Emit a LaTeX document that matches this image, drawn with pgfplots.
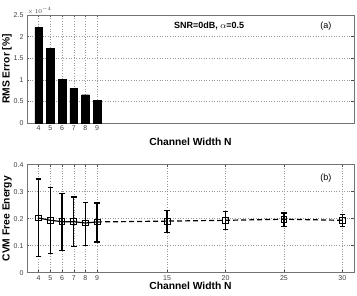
\documentclass[border=0pt]{standalone}
\usepackage{pgfplots}
\pgfplotsset{compat=1.18}
\usepackage{fontspec}
\setmainfont{Liberation Sans}
\setsansfont{Liberation Sans}
\begin{document}
\begin{tikzpicture}
\path[use as bounding box] (0,0) rectangle (357pt,296pt);
\pgfplotsset{
  mystyle/.style={
    scale only axis, width=327pt, height=108pt, anchor=south west,
    xmin=3, xmax=31,
    axis line style={draw=black!55, line width=0.8pt},
    tick align=inside, major tick length=2.5pt,
    tick style={black!70, line width=0.4pt},
    grid=major, grid style={dash pattern=on 0.6pt off 2pt, black!40, line width=0.4pt},
    tick label style={font=\fontsize{7}{8}\selectfont, text=black!75},
    xticklabel style={yshift=1pt},
    /pgf/number format/assume math mode=true,
    label style={font=\bfseries\fontsize{10.3}{11}\selectfont},
    xlabel={Channel Width N},
  }
}
\begin{axis}[mystyle, at={(27pt,173pt)},
  ymin=0, ymax=2.5,
  ytick={0,0.5,1,1.5,2,2.5},
  yticklabels={0,0.5,1,1.5,2,2.5},
  xtick={4,5,6,7,8,9},
  ylabel={RMS Error [\%]},
  xlabel style={yshift=-1pt},
  ylabel style={yshift=-5pt},
  clip=false]
\addplot[ybar, bar width=0.66, fill=black, draw=black] coordinates {
(4,2.215) (5,1.73) (6,1.015) (7,0.80) (8,0.654) (9,0.523)};
\node[font=\fontsize{6}{7}\selectfont, text=black!75, anchor=south west, inner sep=0.5pt] at (rel axis cs:0,1) {$\times\,10^{-4}$};
\node[font=\bfseries\fontsize{9}{10}\selectfont, anchor=north] at (axis cs:18.6,2.43) {SNR=0dB, $\alpha$=0.5};
\node[font=\fontsize{9}{10}\selectfont, anchor=north] at (axis cs:28.6,2.43) {(a)};
\end{axis}
\begin{axis}[mystyle, at={(27pt,23.3pt)},
  ymin=0, ymax=0.4,
  ytick={0,0.1,0.2,0.3,0.4},
  yticklabels={0,0.1,0.2,0.3,0.4},
  xtick={4,5,6,7,8,9,15,20,25,30},
  ylabel={CVM Free Energy},
  xlabel style={yshift=5pt},
  ylabel style={yshift=-5pt},
  clip=false]
\addplot[black, line width=1.2pt, mark=square, mark size=2.9pt,
  mark options={solid, line width=0.9pt},
  error bars/.cd, y dir=both, y explicit,
  error bar style={line width=1.5pt, solid},
  error mark options={rotate=90, mark size=2.8pt, line width=1.2pt}]
table[x=x, y=y, y error plus=ep, y error minus=em] {
x y ep em
4 0.2025 0.1445 0.1435
5 0.194 0.123 0.123
6 0.189 0.103 0.106
7 0.189 0.091 0.093
8 0.184 0.077 0.082
9 0.188 0.070 0.074
};
\addplot[black, line width=1.2pt, dash pattern=on 5pt off 3pt, mark=square, mark size=2.9pt,
  mark options={solid, line width=0.9pt},
  error bars/.cd, y dir=both, y explicit,
  error bar style={line width=1.5pt, solid},
  error mark options={rotate=90, mark size=2.8pt, line width=1.2pt}]
table[x=x, y=y, y error plus=ep, y error minus=em] {
x y ep em
9 0.188 0.070 0.074
15 0.191 0.040 0.041
20 0.194 0.033 0.034
25 0.198 0.023 0.027
30 0.194 0.022 0.022
};
\node[font=\fontsize{9}{10}\selectfont, anchor=north] at (axis cs:28.6,0.38) {(b)};
\end{axis}
\end{tikzpicture}
\end{document}
